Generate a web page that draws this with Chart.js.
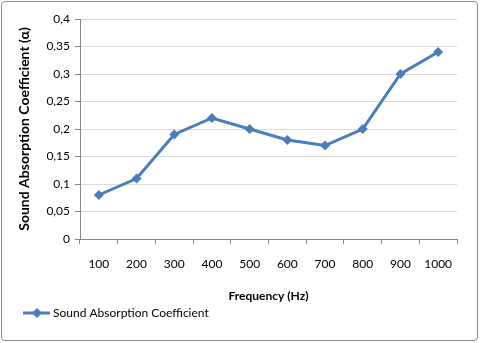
<!DOCTYPE html>
<html>
<head>
<meta charset="utf-8">
<script src="https://cdn.jsdelivr.net/npm/chart.js@4/dist/chart.umd.min.js"></script>
<style>
  html, body { margin: 0; padding: 0; background: #fff; }
  #wrap { position: relative; width: 480px; height: 343px; }
  #frame { position: absolute; left: 1px; top: 1px; width: 477px; height: 340px; border: 1px solid #8c8c8c; border-radius: 4px; box-sizing: border-box; pointer-events: none; }
  canvas { position: absolute; left: 0; top: 0; }
</style>
</head>
<body>
<div id="wrap">
  <canvas id="c" width="480" height="343"></canvas>
  <div id="frame"></div>
</div>
<script>
const categories = ['100', '200', '300', '400', '500', '600', '700', '800', '900', '1000'];
const absorption = [0.08, 0.11, 0.19, 0.22, 0.20, 0.18, 0.17, 0.20, 0.30, 0.34];
const yTickLabels = ['0', '0,05', '0,1', '0,15', '0,2', '0,25', '0,3', '0,35', '0,4'];
const seriesName = 'Sound Absorption Coefficient';
const xTitle = 'Frequency (Hz)';
const yTitle = 'Sound Absorption Coefficient (\u03b1)';

const FONT = 'Lato, "Liberation Sans", sans-serif';
const BLUE = '#4a7ebb';

const legendPlugin = {
  id: 'excelLegend',
  afterDraw(chart) {
    const ctx = chart.ctx;
    ctx.save();
    const y = 313;
    ctx.strokeStyle = BLUE;
    ctx.lineWidth = 3;
    ctx.beginPath();
    ctx.moveTo(23, y);
    ctx.lineTo(50, y);
    ctx.stroke();
    ctx.fillStyle = BLUE;
    ctx.beginPath();
    ctx.moveTo(37, y - 5);
    ctx.lineTo(42, y);
    ctx.lineTo(37, y + 5);
    ctx.lineTo(32, y);
    ctx.closePath();
    ctx.fill();
    ctx.fillStyle = '#000';
    ctx.font = '12px ' + FONT;
    ctx.textBaseline = 'middle';
    ctx.textAlign = 'left';
    ctx.fillText(chart.data.datasets[0].label, 53, y);
    ctx.restore();
  }
};

new Chart(document.getElementById('c'), {
  type: 'line',
  data: {
    labels: categories,
    datasets: [{
      label: seriesName,
      data: absorption,
      borderColor: BLUE,
      backgroundColor: BLUE,
      borderWidth: 3,
      pointStyle: 'rectRot',
      pointRadius: 5,
      pointBorderWidth: 0,
      tension: 0
    }]
  },
  options: {
    responsive: false,
    animation: false,
    devicePixelRatio: 1,
    layout: { padding: { left: 0, top: 19, right: 23, bottom: 40 } },
    plugins: { legend: { display: false }, tooltip: { enabled: false } },
    scales: {
      x: {
        type: 'category',
        offset: true,
        grid: { offset: true, drawOnChartArea: false, color: '#868686', tickLength: 5, tickColor: '#868686' },
        border: { color: '#868686', width: 1 },
        ticks: { color: '#000', font: { family: FONT, size: 12 }, padding: 13, maxRotation: 0 },
        title: { display: true, text: xTitle, color: '#000', font: { family: FONT, size: 12, weight: 'bold' }, padding: { top: 14, bottom: 0 } },
        afterFit(scale) { scale.height = 64; }
      },
      y: {
        min: 0, max: 0.4,
        grid: { color: '#d9d9d9', tickLength: 5, tickColor: '#868686', drawTicks: true },
        border: { color: '#868686', width: 1 },
        ticks: {
          stepSize: 0.05,
          color: '#000',
          font: { family: FONT, size: 12 },
          padding: 5,
          callback: (v, i) => yTickLabels[i]
        },
        title: { display: true, text: yTitle, color: '#000', font: { family: FONT, size: 14, weight: 'bold' }, padding: { top: 16, bottom: 0 } },
        afterFit(scale) { scale.width = 80; }
      }
    }
  },
  plugins: [legendPlugin]
});
</script>
</body>
</html>
